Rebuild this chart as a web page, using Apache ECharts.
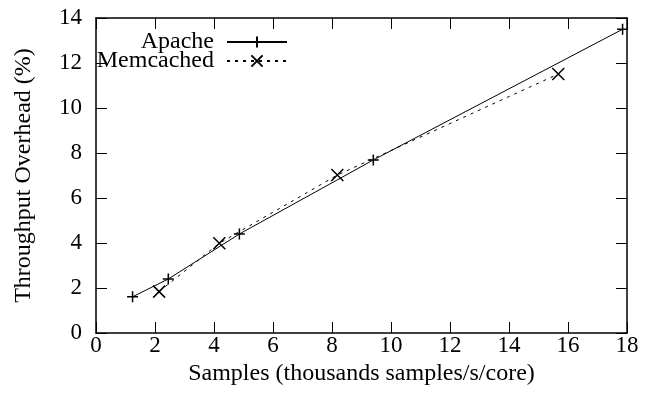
<!DOCTYPE html>
<html><head><meta charset="utf-8">
<script src="https://cdn.jsdelivr.net/npm/echarts@6/dist/echarts.min.js"></script>
<style>html,body{margin:0;padding:0;background:#fff}#c{width:656px;height:398px}</style>
</head><body><div id="c"></div>
<script>
const apacheX = [1.24, 2.45, 4.86, 9.4, 17.85];
const apacheY = [1.61, 2.4, 4.4, 7.69, 13.5];
const memX = [2.14, 4.18, 8.18, 15.67];
const memY = [1.84, 3.99, 7.02, 11.51];
const xTicks = [0, 2, 4, 6, 8, 10, 12, 14, 16, 18];
const yTicks = [0, 2, 4, 6, 8, 10, 12, 14];

const FONT = 'Liberation Serif';
const FS = 23;
const FS_T = 24;
const plus = 'path://M0,-1L0,1M-1,0L1,0';
const cross = 'path://M-1,-1L1,1M-1,1L1,-1';

const chart = echarts.init(document.getElementById('c'));
const axisCommon = () => ({
  axisLine: {show: true, onZero: false, lineStyle: {color: '#000', width: 1.5}},
  axisTick: {show: true, inside: true, length: 11, lineStyle: {color: '#000', width: 1}},
  splitLine: {show: false}
});
chart.setOption({
  animation: false,
  grid: {left: 96, right: 29, top: 18, bottom: 65},
  xAxis: [
    Object.assign({type: 'value', min: xTicks[0], max: xTicks[xTicks.length-1], interval: 2,
      name: 'Samples (thousands samples/s/core)', nameLocation: 'middle', nameGap: 26,
      nameTextStyle: {fontFamily: FONT, fontSize: FS_T, color: '#000'},
      axisLabel: {fontFamily: FONT, fontSize: FS, color: '#000', margin: 1}}, axisCommon()),
    Object.assign({type: 'value', position: 'top', min: xTicks[0], max: xTicks[xTicks.length-1], interval: 2,
      axisLabel: {show: false}}, axisCommon())
  ],
  yAxis: [
    Object.assign({type: 'value', min: yTicks[0], max: yTicks[yTicks.length-1], interval: 2,
      name: 'Throughput Overhead (%)', nameLocation: 'middle', nameGap: 60, nameRotate: 90,
      nameTextStyle: {fontFamily: FONT, fontSize: FS_T, color: '#000'},
      axisLabel: {fontFamily: FONT, fontSize: FS, color: '#000', margin: 14}}, axisCommon()),
    Object.assign({type: 'value', position: 'right', min: yTicks[0], max: yTicks[yTicks.length-1], interval: 2,
      axisLabel: {show: false}}, axisCommon())
  ],
  legend: [
    {data: ['Apache'], right: 368, top: 30, align: 'right', itemWidth: 60, itemHeight: 14, padding: 0,
      textStyle: {fontFamily: FONT, fontSize: FS_T, color: '#000', padding: [0, 8, 0, 0]}},
    {data: ['Memcached'], right: 368, top: 49, align: 'right', itemWidth: 60, itemHeight: 14, padding: 0,
      textStyle: {fontFamily: FONT, fontSize: FS_T, color: '#000', padding: [0, 8, 0, 0]}}
  ],
  series: [
    {name: 'Apache', type: 'line', data: apacheX.map((x, i) => [x, apacheY[i]]),
      symbol: plus, symbolSize: 11, showAllSymbol: true,
      lineStyle: {color: '#000', width: 1},
      itemStyle: {color: 'none', borderColor: '#000', borderWidth: 1.5}},
    {name: 'Memcached', type: 'line', data: memX.map((x, i) => [x, memY[i]]),
      symbol: cross, symbolSize: 12, showAllSymbol: true,
      lineStyle: {color: '#000', width: 1, type: [3, 5]},
      itemStyle: {color: 'none', borderColor: '#000', borderWidth: 1.5}}
  ]
});
</script></body></html>
